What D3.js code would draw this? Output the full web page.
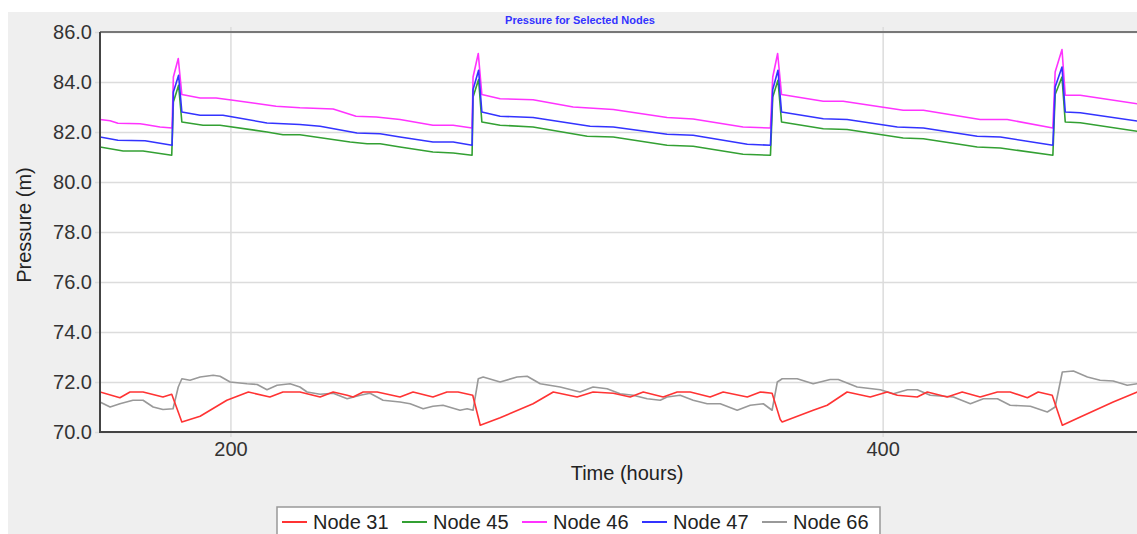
<!DOCTYPE html>
<html>
<head>
<meta charset="utf-8">
<script src="https://cdn.jsdelivr.net/npm/d3@7"></script>
<style>
  body { margin: 0; background: #fff; overflow: hidden; }
  text { font-family: "Liberation Sans", Arial, sans-serif; }
</style>
</head>
<body>
<div id="container"></div>
<script>
/* global d3 */

const width = 1137;
const height = 534;
const plot = { left: 100, right: 1137, top: 32, bottom: 432 };

// series names and colours (legend order)
const nodeNames = ["Node 31", "Node 45", "Node 46", "Node 47", "Node 66"];
const nodeColors = ["#ff3333", "#33a033", "#ff33ff", "#3333ff", "#999999"];

// axis ticks
const yTicks = [70, 72, 74, 76, 78, 80, 82, 84, 86];
const xTicks = [200, 400];

// [hour, pressure]
const node31 = [[160,71.6],[166.1,71.37],[169.2,71.6],[173.2,71.6],[179.3,71.4],[182.0,71.51],[185.1,70.4],
  [190.7,70.63],[198.9,71.27],[205.5,71.6],[212.1,71.4],[216.1,71.6],[221.3,71.6],[227.5,71.4],[231.5,71.6],
  [235.8,71.47],[237.6,71.4],[240.7,71.6],[245.0,71.6],[252.0,71.4],[256.0,71.6],[262.1,71.4],[266.4,71.6],
  [269.8,71.6],[274.3,71.47],[276.6,70.27],[282.7,70.57],[292.8,71.13],[299.0,71.6],[306.3,71.4],[311.2,71.6],
  [317.4,71.55],[322.6,71.4],[326.6,71.6],[332.7,71.4],[337.0,71.6],[341.0,71.6],[347.1,71.4],[351.1,71.6],
  [358.5,71.4],[362.5,71.6],[366.1,71.55],[368.6,70.5],[369.2,70.4],[378.7,70.87],[383.0,71.07],[389.1,71.6],
  [396.2,71.4],[401.4,71.6],[404.5,71.47],[410.6,71.4],[413.7,71.6],[419.8,71.4],[424.4,71.6],[429.9,71.4],
  [435.2,71.6],[439.1,71.6],[444.4,71.37],[447.7,71.6],[452.0,71.47],[455.1,70.27],[460.6,70.6],[470.7,71.2],
  [478.1,71.6]];

const node45 = [[160,81.4],[167.1,81.24],[173.2,81.24],[182.0,81.07],[182.5,83.2],[184.1,83.87],[185.1,82.4],
  [191.6,82.27],[196.8,82.27],[211.2,82.0],[216.1,81.89],[221.3,81.89],[236.7,81.6],[241.9,81.53],[245.9,81.53],
  [252.0,81.4],[262.1,81.2],[268.3,81.16],[274.1,81.07],[274.4,83.4],[276.1,84.1],[277.1,82.4],[282.7,82.27],
  [292.8,82.2],[309.4,81.83],[317.4,81.8],[333.9,81.47],[341.9,81.43],[357.2,81.11],[365.6,81.07],[366.3,83.4],
  [367.9,84.07],[369.0,82.4],[381.8,82.13],[389.1,82.1],[406.3,81.76],[412.5,81.73],[429.0,81.4],[436.1,81.36],
  [452.2,81.07],[452.9,83.5],[455.0,84.2],[456.0,82.4],[460.6,82.37],[478.1,82.03]];

const node46 = [[160,82.5],[163.1,82.45],[165.5,82.35],[172.3,82.33],[173.8,82.3],[178.4,82.2],[182.1,82.16],
  [182.5,84.2],[184.0,84.94],[185.1,83.5],[190.7,83.36],[195.6,83.36],[200.8,83.27],[207.5,83.15],[214.0,83.03],
  [221.3,82.97],[231.5,82.92],[238.5,82.63],[244.7,82.6],[252.0,82.5],[262.1,82.27],[268.3,82.27],[274.1,82.16],
  [274.4,84.2],[276.0,85.14],[277.1,83.5],[282.7,83.33],[292.8,83.29],[305.1,83.0],[317.4,82.9],[333.9,82.58],
  [341.9,82.52],[357.2,82.2],[365.6,82.16],[366.3,84.2],[367.8,85.14],[369.0,83.5],[381.8,83.23],[387.9,83.23],
  [406.3,82.87],[412.5,82.87],[429.9,82.5],[438.2,82.5],[452.2,82.16],[452.9,84.4],[455.0,85.3],[456.0,83.47],
  [460.6,83.47],[478.1,83.13]];

const node47 = [[160,81.8],[165.5,81.67],[173.8,81.65],[182.1,81.47],[182.5,83.6],[184.1,84.27],[185.1,82.8],
  [190.7,82.67],[197.7,82.67],[200.8,82.6],[211.2,82.36],[221.3,82.3],[227.5,82.23],[238.8,81.96],[245.9,81.93],
  [252.0,81.8],[262.1,81.6],[268.3,81.6],[274.1,81.47],[274.4,83.7],[276.1,84.47],[277.1,82.8],[282.7,82.63],
  [292.8,82.58],[310.3,82.23],[317.4,82.2],[333.9,81.91],[341.9,81.87],[358.5,81.51],[365.6,81.47],[366.3,83.7],
  [367.9,84.47],[369.0,82.8],[381.8,82.53],[389.1,82.5],[404.5,82.2],[412.5,82.16],[429.0,81.83],[436.1,81.8],
  [452.2,81.47],[452.9,83.8],[455.0,84.6],[456.0,82.8],[460.6,82.77],[478.1,82.44]];

const node66 = [[160,71.2],[163.1,71.0],[166.1,71.13],[170.1,71.27],[173.2,71.27],[176.3,71.0],[179.3,70.9],
  [182.4,70.93],[184.0,71.8],[185.1,72.13],[187.6,72.07],[190.7,72.2],[194.7,72.27],[196.8,72.23],[199.9,72.0],
  [205.1,71.93],[208.2,71.9],[211.2,71.69],[214.3,71.87],[218.3,71.93],[221.3,71.8],[223.5,71.6],[227.5,71.51],
  [231.5,71.55],[235.8,71.33],[239.8,71.47],[242.8,71.55],[246.8,71.27],[252.0,71.2],[255.1,71.13],[259.1,70.93],
  [262.1,71.03],[265.2,71.07],[270.4,70.87],[272.6,70.93],[274.4,70.87],[276.0,72.13],[277.5,72.2],[282.7,72.0],
  [287.9,72.2],[291.0,72.23],[295.0,71.93],[301.1,71.8],[307.2,71.6],[311.2,71.8],[315.5,71.73],[319.5,71.53],
  [323.5,71.47],[327.8,71.33],[331.8,71.27],[333.9,71.4],[337.9,71.47],[341.9,71.27],[346.2,71.13],[350.2,71.13],
  [355.4,70.87],[359.4,71.07],[363.4,71.13],[366.1,70.87],[367.7,72.0],[369.2,72.13],[373.8,72.13],[378.7,71.93],
  [383.9,72.1],[386.4,72.1],[392.2,71.8],[399.3,71.69],[403.3,71.53],[407.6,71.69],[410.6,71.69],[414.6,71.47],
  [421.7,71.4],[426.9,71.13],[430.9,71.33],[435.2,71.33],[439.1,71.07],[445.3,71.03],[450.5,70.8],[452.9,71.0],
  [455.1,72.4],[458.5,72.44],[462.8,72.2],[466.7,72.07],[470.7,72.04],[475.0,71.87],[478.1,71.93]];

const nodeData = [node31, node45, node46, node47, node66];

//create svg
const svg = d3
  .select("#container")
  .append("svg")
  .attr("width", width)
  .attr("height", height);

// grey panel
svg.append("rect")
  .attr("x", 8).attr("y", 12)
  .attr("width", width - 8).attr("height", height - 12)
  .attr("fill", "#efefef");

// title
svg.append("text")
  .attr("x", 580).attr("y", 24)
  .attr("text-anchor", "middle")
  .attr("font-size", 11)
  .attr("font-weight", "bold")
  .attr("fill", "#3333ff")
  .text("Pressure for Selected Nodes");

// plot background
svg.append("rect")
  .attr("x", plot.left).attr("y", plot.top)
  .attr("width", plot.right - plot.left).attr("height", plot.bottom - plot.top)
  .attr("fill", "#fff");

const xScale = d3.scaleLinear([160, 478], [plot.left, plot.right]);
const yScale = d3.scaleLinear([70, 86], [plot.bottom, plot.top]);

// gridlines
const xGrid = svg.append("g")
  .attr("transform", `translate(0, ${plot.bottom})`)
  .call(d3.axisBottom(xScale).tickValues(xTicks).tickSize(-(plot.bottom - plot.top) - 5).tickFormat(""));
xGrid.select(".domain").remove();
xGrid.selectAll(".tick line")
  .attr("stroke", "#dcdcdc").attr("stroke-width", 1.5)
  .attr("y1", 5);

const yGrid = svg.append("g")
  .attr("transform", `translate(${plot.left},0)`)
  .call(d3.axisLeft(yScale).tickValues(yTicks).tickSize(-(plot.right - plot.left) - 5).tickFormat(""));
yGrid.select(".domain").remove();
yGrid.selectAll(".tick line")
  .attr("stroke", "#dcdcdc").attr("stroke-width", 1.5)
  .attr("x1", -5);

// tick labels
const yAx = svg.append("g")
  .attr("transform", `translate(${plot.left},0)`)
  .call(d3.axisLeft(yScale).tickValues(yTicks).tickSize(0).tickPadding(8).tickFormat(d3.format(".1f")));
yAx.select(".domain").remove();
yAx.selectAll("text")
  .attr("font-size", 20)
  .attr("font-family", "Liberation Sans, Arial, sans-serif")
  .attr("fill", "#333");

const xAx = svg.append("g")
  .attr("transform", `translate(0, ${plot.bottom})`)
  .call(d3.axisBottom(xScale).tickValues(xTicks).tickSize(0).tickPadding(10).tickFormat(d3.format("d")));
xAx.select(".domain").remove();
xAx.selectAll("text")
  .attr("font-size", 20)
  .attr("font-family", "Liberation Sans, Arial, sans-serif")
  .attr("fill", "#333");

// clip lines to plot area
svg.append("clipPath").attr("id", "clip")
  .append("rect")
  .attr("x", plot.left).attr("y", plot.top - 2)
  .attr("width", plot.right - plot.left).attr("height", plot.bottom - plot.top + 2);

const line = d3.line()
  .x((d) => xScale(d[0]))
  .y((d) => yScale(d[1]));

// draw order: grey and red underneath, upper lines on top
const drawOrder = [4, 0, 1, 2, 3];
svg.append("g")
  .attr("clip-path", "url(#clip)")
  .selectAll("path")
  .data(drawOrder)
  .enter()
  .append("path")
  .attr("d", (i) => line(nodeData[i]))
  .attr("fill", "none")
  .attr("stroke", (i) => nodeColors[i])
  .attr("stroke-width", 1.6)
  .attr("stroke-linejoin", "round");

// frame lines: top, left, bottom
svg.append("line")
  .attr("x1", plot.left).attr("x2", plot.right)
  .attr("y1", plot.top).attr("y2", plot.top)
  .attr("stroke", "#777").attr("stroke-width", 2);
svg.append("line")
  .attr("x1", plot.left).attr("x2", plot.left)
  .attr("y1", plot.top).attr("y2", plot.bottom)
  .attr("stroke", "#444").attr("stroke-width", 2);
svg.append("line")
  .attr("x1", plot.left - 1).attr("x2", plot.right)
  .attr("y1", plot.bottom).attr("y2", plot.bottom)
  .attr("stroke", "#444").attr("stroke-width", 2);

// axis titles
svg.append("text")
  .attr("x", 627).attr("y", 480)
  .attr("text-anchor", "middle")
  .attr("font-size", 20)
  .attr("fill", "#222")
  .text("Time (hours)");

svg.append("text")
  .attr("transform", "translate(31, 225) rotate(-90)")
  .attr("text-anchor", "middle")
  .attr("font-size", 20)
  .attr("fill", "#222")
  .text("Pressure (m)");

// legend
const legend = svg.append("g").attr("transform", "translate(277, 507)");
legend.append("rect")
  .attr("x", 0).attr("y", 0)
  .attr("width", 603).attr("height", 32)
  .attr("fill", "#fff")
  .attr("stroke", "#999")
  .attr("stroke-width", 1.5);

const items = legend.selectAll("g.item")
  .data(nodeNames)
  .enter()
  .append("g")
  .attr("class", "item")
  .attr("transform", (d, i) => `translate(${5 + i * 120}, 0)`);
items.append("line")
  .attr("x1", 0).attr("x2", 25)
  .attr("y1", 15).attr("y2", 15)
  .attr("stroke", (d, i) => nodeColors[i])
  .attr("stroke-width", 2);
items.append("text")
  .attr("x", 31).attr("y", 22)
  .attr("font-size", 20)
  .attr("fill", "#222")
  .text((d) => d);
</script>
</body>
</html>
